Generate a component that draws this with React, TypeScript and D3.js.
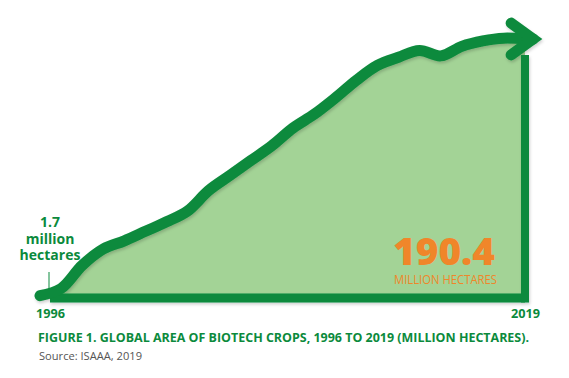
import React from "react";
import * as d3 from "d3";

const years = [1996,1997,1998,1999,2000,2001,2002,2003,2004,2005,2006,2007,2008,2009,2010,2011,2012,2013,2014,2015,2016,2017,2018,2019];
const hectares = [1.7,7,24,36,42,49,56,64,79,90,101,112,125,135,147,160,171,177,182,178,185,189,191,190.4];
const firstLabel = ["1.7", "million", "hectares"];
const lastValueLabel = "190.4";
const lastUnitLabel = "MILLION HECTARES";
const title = "FIGURE 1. GLOBAL AREA OF BIOTECH CROPS, 1996 TO 2019 (MILLION HECTARES).";
const source = "Source: ISAAA, 2019";

const W = 569, H = 378;
const GREEN = "#0b8a3c";
const FILL = "#a3d396";
const ORANGE = "#f0862a";

export default function App() {
  const x = d3.scaleLinear().domain([1996, 2019]).range([40, 525]);
  const y = d3.scaleLinear().domain([0, 190.4]).range([298, 39]);
  const data = years.map((yr, i) => ({ yr, v: hectares[i] }));
  const curve = d3.curveCatmullRom.alpha(0.5);

  const area = d3.area<{ yr: number; v: number }>()
    .x(d => x(d.yr)).y0(y(0)).y1(d => y(d.v)).curve(curve);
  const line = d3.line<{ yr: number; v: number }>()
    .x(d => x(d.yr)).y(d => y(d.v)).curve(curve);

  const last = data[data.length - 1];
  const lx = x(last.yr), ly = y(last.v);
  const tip: [number, number] = [lx + 8, ly];
  const armLen = 27;
  const ang = (36 * Math.PI) / 180;
  const a1: [number, number] = [tip[0] - armLen * Math.cos(ang), tip[1] - armLen * Math.sin(ang)];
  const a2: [number, number] = [tip[0] - armLen * Math.cos(ang), tip[1] + armLen * Math.sin(ang)];

  const first = data[0];
  const fx = x(first.yr);

  return (
    <div style={{ position: "absolute", left: 0, top: 0 }}>
      <svg width={W} height={H} style={{ display: "block", background: "#fff" }}>
        <defs>
          <filter id="sh" x="-10%" y="-10%" width="120%" height="130%">
            <feDropShadow dx="1" dy="2" stdDeviation="1.5" floodColor="#000" floodOpacity="0.18" />
          </filter>
        </defs>
        <path d={area(data) || ""} fill={FILL} />
        <g filter="url(#sh)">
          <line x1={fx + 10} x2={lx} y1={y(0)} y2={y(0)} stroke={GREEN} strokeWidth={9} />
          <line x1={lx} x2={lx} y1={ly + 16} y2={y(0) + 4.5} stroke={GREEN} strokeWidth={8} />
          <path
            d={(line(data) || "") + `L${tip[0]},${tip[1]}`}
            fill="none" stroke={GREEN} strokeWidth={11} strokeLinecap="round" strokeLinejoin="round" />
          <path
            d={`M${a1[0]},${a1[1]}L${tip[0]},${tip[1]}L${a2[0]},${a2[1]}`}
            fill="none" stroke={GREEN} strokeWidth={11} strokeLinecap="round" strokeLinejoin="miter" />
        </g>

        {/* first value label */}
        <g fontFamily="'Open Sans', sans-serif" fontWeight={700} fill={GREEN} fontSize={14} textAnchor="middle">
          {firstLabel.map((t, i) => (
            <text key={t} x={fx + 10} y={227 + i * 16.5}>{t}</text>
          ))}
        </g>
        <line x1={fx + 9} x2={fx + 9} y1={272} y2={290} stroke={GREEN} strokeWidth={1} />

        {/* last value label */}
        <text x={393} y={265} fontFamily="'Open Sans', sans-serif" fontWeight={800} fontSize={37}
          fill={ORANGE} textLength={102} lengthAdjust="spacingAndGlyphs">{lastValueLabel}</text>
        <text x={394} y={284} fontFamily="'Open Sans', sans-serif" fontWeight={400} fontSize={12.5}
          fill={ORANGE} textLength={103} lengthAdjust="spacingAndGlyphs">{lastUnitLabel}</text>

        {/* axis year labels */}
        <text x={fx - 4} y={318} fontFamily="'Open Sans', sans-serif" fontWeight={700} fontSize={12}
          fill={GREEN} textLength={29} lengthAdjust="spacingAndGlyphs">{years[0]}</text>
        <text x={lx + 15} y={318} fontFamily="'Open Sans', sans-serif" fontWeight={700} fontSize={12}
          fill={GREEN} textAnchor="end" textLength={29} lengthAdjust="spacingAndGlyphs">{years[years.length - 1]}</text>

        <text x={38} y={342} fontFamily="'Open Sans', sans-serif" fontWeight={700} fontSize={12.5}
          fill={GREEN} textLength={491} lengthAdjust="spacingAndGlyphs">{title}</text>
        <text x={39} y={360} fontFamily="'Open Sans', sans-serif" fontWeight={400} fontSize={11}
          fill="#555" textLength={103} lengthAdjust="spacingAndGlyphs">{source}</text>
      </svg>
    </div>
  );
}
